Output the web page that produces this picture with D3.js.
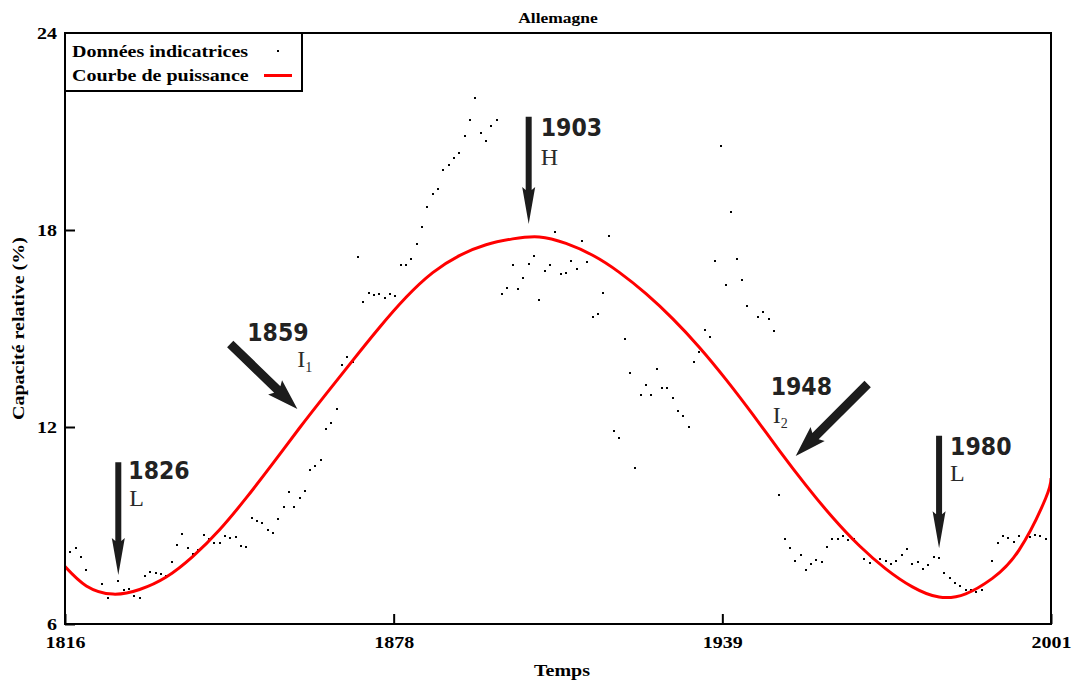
<!DOCTYPE html>
<html>
<head>
<meta charset="utf-8">
<script src="https://cdn.jsdelivr.net/npm/d3@7"></script>
<style>
  body { margin: 0; background: #fff; }
  svg { display: block; }
</style>
</head>
<body>
<svg id="chart" width="1084" height="690"></svg>
<script>
// ---- Data -------------------------------------------------------------
// Annual indicator readings (relative capacity, %), one value per year from 1817; null = no reading
const firstYear = 1817;
const indicatorValues = [
  8.18, 8.31, 8.05, 7.65,                                            // 1817-1820
  null, null, 7.21, 6.80, null, 7.30, 7.04, 7.06, 6.84, 6.80,        // 1821-1830
  7.46, 7.59, 7.55, 7.51, 7.47, 7.89, 8.40, 8.73, 8.31, 8.14,        // 1831-1840
  8.25, 8.70, 8.58, 8.48, 8.48, 8.68, 8.61, 8.64, 8.38, 8.34,        // 1841-1850
  9.23, 9.13, 9.08, 8.87, 8.76, 9.20, 9.55, 10.02, 9.55, 9.84,       // 1851-1860
  10.05, 10.69, 10.82, 10.99, 11.94, 12.13, 12.55, 13.89, 14.12, 13.99, // 1861-1870
  17.19, 15.82, 16.08, 16.01, 16.05, 15.94, 16.05, 15.98, 16.92, 16.92, // 1871-1880
  17.12, 17.57, 18.10, 18.69, 19.11, 19.25, 19.83, 19.99, 20.18, 20.35, // 1881-1890
  20.87, 21.36, 22.01, 20.95, 20.70, 21.16, 21.36, 16.04, 16.23, 16.92, // 1891-1900
  16.20, 16.53, 16.96, 17.22, 15.88, 16.76, 16.92, 17.93, 16.66, 16.69, // 1901-1910
  17.06, 16.82, 17.67, 17.03, 15.36, 15.45, 16.07, 17.81, 11.87, 11.67, // 1911-1920
  14.67, 13.64, 10.76, 12.97, 13.27, 12.97, 13.76, 13.18, 13.18, 12.87, // 1921-1930
  12.49, 12.33, 11.99, 13.99, 14.28, 14.96, 14.74, 17.06, 20.55, 16.33, // 1931-1940
  18.56, 17.12, 16.48, 15.69, null, 15.36, 15.49, 15.29, 14.93, 9.92,   // 1941-1950
  8.58, 8.31, 7.93, 8.11, 7.64, 7.82, 7.96, 7.89, 8.35, 8.60,        // 1951-1960
  8.60, 8.67, 8.55, 8.58, 8.41, 7.98, 7.86, null, 7.98, 7.93,        // 1961-1970
  7.82, 7.93, 8.09, 8.27, 7.82, 7.89, 7.68, 7.80, 8.05, 8.01,        // 1971-1980
  7.55, 7.39, 7.26, 7.17, 7.04, 7.04, 6.97, 7.04, null, 7.92,        // 1981-1990
  8.48, 8.67, 8.61, 8.51, 8.67, 8.51, 8.64, 8.70, 8.67, 8.58         // 1991-2000
];

// Fitted power curve, sampled along the period
const curveYears  = [1816, 1820, 1825, 1830, 1835, 1840, 1845, 1850, 1855, 1860,
                     1865, 1870, 1875, 1880, 1885, 1890, 1895, 1900, 1905, 1910,
                     1915, 1920, 1925, 1930, 1935, 1940, 1945, 1950, 1955, 1960,
                     1965, 1970, 1975, 1980, 1985, 1990, 1995, 2000, 2001];
const curveValues = [7.75, 7.16, 6.91, 7.05, 7.43, 8.06, 8.87, 9.84, 10.89, 11.97,
                     13.01, 14.03, 15.03, 15.95, 16.70, 17.22, 17.55, 17.73, 17.79, 17.59,
                     17.23, 16.71, 16.06, 15.30, 14.43, 13.45, 12.39, 11.29, 10.23, 9.25,
                     8.39, 7.68, 7.13, 6.82, 6.92, 7.39, 8.25, 9.83, 10.45];

// Axis ticks
const yTickValues = [6, 12, 18, 24];
const xTickLabels = ["1816", "1878", "1939", "2001"];

// Turning points of the cycle: low (L), inflection (I), high (H)
const turnYears   = ["1826", "1859", "1903", "1948", "1980"];
const turnPhases  = ["L", "I", "H", "I", "L"];
const turnIndex   = ["", "1", "", "2", ""];
// arrow tail and tip, in (year, value)
const turnTails   = [[1826, 10.93], [1847.0, 14.53], [1903, 21.45], [1966.6, 13.31], [1980, 11.73]];
const turnTips    = [[1826, 7.49],  [1859.6, 12.55], [1903, 18.18], [1953.1, 11.12], [1980, 8.31]];

// ---- Layout -------------------------------------------------------------
const svg = d3.select("#chart");
const plot = { left: 65, right: 1051, top: 33, bottom: 624 };
const SERIF = "'Liberation Serif', 'Times New Roman', serif";
const SANS = "'DejaVu Sans', Verdana, sans-serif";
const STRETCH = 1.25;   // wide serif lettering

const x = d3.scaleLinear().domain([1816, 2001]).range([plot.left, plot.right]);
const y = d3.scaleLinear().domain([6, 24]).range([plot.bottom, plot.top]);

svg.append("rect").attr("width", 1084).attr("height", 690).attr("fill", "#fff");

function wideText(parent, px, py, str, size, anchor, extra) {
  return parent.append("text")
    .attr("transform", `translate(${px},${py}) ${extra || ""} scale(${STRETCH},1)`)
    .attr("text-anchor", anchor || "start")
    .attr("font-family", SERIF)
    .attr("font-weight", "bold")
    .attr("font-size", size)
    .attr("fill", "#000")
    .text(str);
}

// ---- Axes -------------------------------------------------------------
const xTickValues = d3.range(xTickLabels.length).map(i => 1816 + i * (2001 - 1816) / (xTickLabels.length - 1));

const xAxis = d3.axisBottom(x)
  .tickValues(xTickValues)
  .tickFormat((d, i) => xTickLabels[i])
  .tickSizeInner(-10).tickSizeOuter(0).tickPadding(13);

const yAxis = d3.axisLeft(y)
  .tickValues(yTickValues)
  .tickFormat(d3.format("d"))
  .tickSizeInner(-10).tickSizeOuter(0).tickPadding(6.4);

const gx = svg.append("g").attr("transform", `translate(0,${plot.bottom})`).call(xAxis);
const gy = svg.append("g").attr("transform", `translate(${plot.left},0)`).call(yAxis);

[gx, gy].forEach(g => {
  g.select(".domain").remove();
  g.selectAll(".tick line").attr("stroke", "#000").attr("stroke-width", 2);
  g.selectAll(".tick text")
    .attr("font-family", SERIF).attr("font-weight", "bold").attr("font-size", 16)
    .attr("fill", "#000").attr("transform", `scale(${STRETCH},1)`);
});
gx.selectAll(".tick text").attr("dy", "0.71em");

// ---- Series -------------------------------------------------------------
svg.append("clipPath").attr("id", "plot-clip")
  .append("rect").attr("x", plot.left).attr("y", plot.top)
  .attr("width", plot.right - plot.left).attr("height", plot.bottom - plot.top);

const points = indicatorValues
  .map((v, i) => ({ year: firstYear + i, value: v }))
  .filter(d => d.value !== null);

svg.append("g").selectAll("rect").data(points).join("rect")
  .attr("x", d => Math.round(x(d.year)) - 1)
  .attr("y", d => Math.round(y(d.value)) - 1)
  .attr("width", 2).attr("height", 2)
  .attr("fill", "#000")
  .attr("shape-rendering", "crispEdges");

const curveData = curveYears.map((yr, i) => ({ year: yr, value: curveValues[i] }));
const line = d3.line().x(d => x(d.year)).y(d => y(d.value)).curve(d3.curveNatural);

svg.append("path")
  .datum(curveData)
  .attr("clip-path", "url(#plot-clip)")
  .attr("d", line)
  .attr("fill", "none")
  .attr("stroke", "#ff0000")
  .attr("stroke-width", 3)
  .attr("stroke-linejoin", "round");

// ---- Frame -------------------------------------------------------------
svg.append("rect")
  .attr("x", plot.left).attr("y", plot.top)
  .attr("width", plot.right - plot.left).attr("height", plot.bottom - plot.top)
  .attr("fill", "none").attr("stroke", "#000").attr("stroke-width", 2);

// ---- Legend -------------------------------------------------------------
const legend = svg.append("g");
legend.append("rect")
  .attr("x", plot.left).attr("y", plot.top).attr("width", 237).attr("height", 58)
  .attr("fill", "#fff").attr("stroke", "#000").attr("stroke-width", 2);
wideText(legend, 72, 57, "Données indicatrices", 16);
wideText(legend, 72, 81, "Courbe de puissance", 16);
legend.append("rect").attr("x", 277).attr("y", 50).attr("width", 2).attr("height", 2).attr("fill", "#000");
legend.append("line").attr("x1", 264).attr("x2", 292).attr("y1", 75.5).attr("y2", 75.5)
  .attr("stroke", "#ff0000").attr("stroke-width", 3);

// ---- Titles -------------------------------------------------------------
wideText(svg, (plot.left + plot.right) / 2, 23, "Allemagne", 14, "middle");
wideText(svg, 562, 676, "Temps", 16, "middle");
wideText(svg, 24, (plot.top + plot.bottom) / 2, "Capacité relative (%)", 16, "middle", "rotate(-90)");

// ---- Turning point arrows -------------------------------------------------
// label offsets from the arrow tail, in pixels
const labelOffsets = {
  "1826": { year: [10, 17], phase: [11, 44] },
  "1859": { year: [17, -3], phase: [67, 23] },
  "1903": { year: [12, 19], phase: [12, 48] },
  "1948": { year: [-97, 11], phase: [-95, 39] },
  "1980": { year: [11, 19], phase: [11, 45] }
};

const arrows = svg.append("g");
turnYears.forEach((label, i) => {
  const tx = x(turnTails[i][0]), ty = y(turnTails[i][1]);
  const hx = x(turnTips[i][0]),  hy = y(turnTips[i][1]);
  const len = Math.hypot(hx - tx, hy - ty);
  const ang = Math.atan2(hy - ty, hx - tx) * 180 / Math.PI;
  const diagonal = Math.abs(hx - tx) > 1;
  const sw = diagonal ? 4.5 : 3;     // half shaft width
  const hw = diagonal ? 10 : 6.5;    // half head width
  const hl = diagonal ? 28 : 34;     // head length
  const b = len - hl;
  const shape = [[0, -sw], [b, -sw], [b - 3, -hw], [len, 0], [b - 3, hw], [b, sw], [0, sw]];
  arrows.append("path")
    .attr("transform", `translate(${tx},${ty}) rotate(${ang})`)
    .attr("d", "M" + shape.map(p => p.join(",")).join("L") + "Z")
    .attr("fill", "#1c1c1c");

  const off = labelOffsets[label];
  arrows.append("text")
    .attr("transform", `translate(${tx + off.year[0]},${ty + off.year[1]}) scale(0.92,1)`)
    .attr("font-family", SANS).attr("font-weight", "bold").attr("font-size", 24)
    .attr("fill", "#222").text(label);

  const ph = arrows.append("text")
    .attr("x", tx + off.phase[0]).attr("y", ty + off.phase[1])
    .attr("font-family", SERIF).attr("font-size", 24).attr("fill", "#2a2a2a")
    .text(turnPhases[i]);
  if (turnIndex[i]) {
    ph.append("tspan").attr("font-size", 14).attr("dy", 5).text(turnIndex[i]);
  }
});
</script>
</body>
</html>
